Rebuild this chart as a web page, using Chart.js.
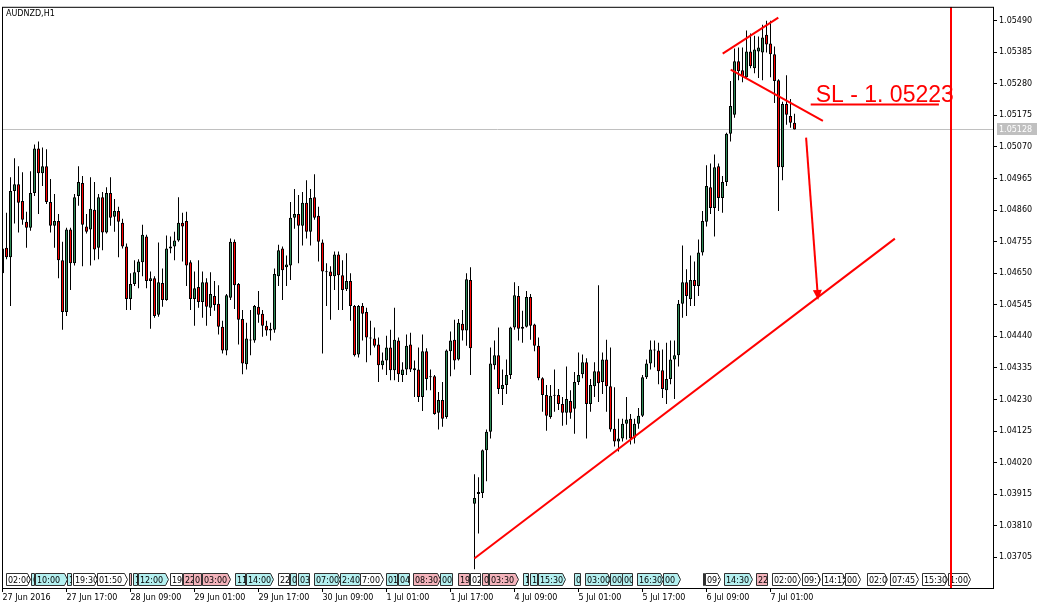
<!DOCTYPE html>
<html>
<head>
<meta charset="utf-8">
<title>AUDNZD,H1</title>
<script src="https://cdn.jsdelivr.net/npm/chart.js@4.4.1/dist/chart.umd.min.js"></script>
<style>
  html, body { margin: 0; padding: 0; background: #fff; }
  #wrap { width: 1047px; height: 609px; }
</style>
</head>
<body>
<div id="wrap"><canvas id="chart" width="1047" height="609"></canvas></div>
<script>
'use strict';

// ---------- data: AUDNZD H1, one entry per hourly bar ----------

const opens = [
  1.04650, 1.04735, 1.04703, 1.04923, 1.04946, 1.04890, 1.04821, 1.04801, 1.04917, 1.05065,
  1.04982, 1.05006, 1.04887, 1.04808, 1.04824, 1.04693, 1.04521, 1.04795, 1.04683, 1.04907,
  1.04950, 1.04805, 1.04795, 1.04861, 1.04735, 1.04903, 1.04785, 1.04917, 1.04838, 1.04857,
  1.04818, 1.04739, 1.04564, 1.04614, 1.04653, 1.04686, 1.04772, 1.04624, 1.04633, 1.04512,
  1.04617, 1.04561, 1.04732, 1.04739, 1.04759, 1.04818, 1.04824, 1.04686, 1.04564, 1.04604,
  1.04554, 1.04620, 1.04535, 1.04574, 1.04548, 1.04472, 1.04393, 1.04568, 1.04755, 1.04614,
  1.04498, 1.04347, 1.04426, 1.04426, 1.04538, 1.04515, 1.04475, 1.04459, 1.04462, 1.04640,
  1.04732, 1.04670, 1.04676, 1.04834, 1.04847, 1.04808, 1.04884, 1.04788, 1.04903, 1.04841,
  1.04752, 1.04656, 1.04656, 1.04640, 1.04712, 1.04643, 1.04597, 1.04624, 1.04541, 1.04380,
  1.04541, 1.04521, 1.04436, 1.04433, 1.04413, 1.04344, 1.04360, 1.04403, 1.04327, 1.04426,
  1.04311, 1.04330, 1.04413, 1.04327, 1.04330, 1.04238, 1.04390, 1.04307, 1.04307, 1.04186,
  1.04228, 1.04172, 1.04390, 1.04429, 1.04363, 1.04482, 1.04459, 1.04627, 1.03883, 1.03916,
  1.03919, 1.04061, 1.04123, 1.04344, 1.04377, 1.04265, 1.04278, 1.04311, 1.04469, 1.04574,
  1.04465, 1.04472, 1.04571, 1.04479, 1.04409, 1.04301, 1.04245, 1.04172, 1.04242, 1.04245,
  1.04215, 1.04186, 1.04225, 1.04199, 1.04288, 1.04314, 1.04354, 1.04215, 1.04274, 1.04324,
  1.04288, 1.04363, 1.04274, 1.04133, 1.04090, 1.04100, 1.04149, 1.04166, 1.04103, 1.04149,
  1.04176, 1.04304, 1.04350, 1.04396, 1.04393, 1.04327, 1.04261, 1.04298, 1.04363, 1.04377,
  1.04548, 1.04620, 1.04564, 1.04627, 1.04607, 1.04719, 1.04821, 1.04936, 1.04867, 1.05006,
  1.04900, 1.04953, 1.05114, 1.05177, 1.05355, 1.05325, 1.05302, 1.05387, 1.05332, 1.05387,
  1.05384, 1.05443, 1.05414, 1.05378, 1.05292, 1.05002, 1.05213, 1.05173, 1.05150
];

const highs = [
  1.04749, 1.04851, 1.04969, 1.05032, 1.05006, 1.04986, 1.04854, 1.04989, 1.05078, 1.05088,
  1.05068, 1.05062, 1.04963, 1.04913, 1.04847, 1.04755, 1.04801, 1.04801, 1.04913, 1.05006,
  1.04973, 1.04847, 1.04969, 1.04953, 1.04913, 1.04920, 1.04936, 1.04969, 1.04897, 1.04871,
  1.04831, 1.04749, 1.04650, 1.04693, 1.04696, 1.04811, 1.04778, 1.04656, 1.04640, 1.04752,
  1.04666, 1.04775, 1.04772, 1.04788, 1.04903, 1.04851, 1.04854, 1.04693, 1.04656, 1.04693,
  1.04656, 1.04633, 1.04653, 1.04624, 1.04610, 1.04492, 1.04581, 1.04765, 1.04762, 1.04617,
  1.04528, 1.04485, 1.04528, 1.04544, 1.04591, 1.04528, 1.04492, 1.04485, 1.04666, 1.04745,
  1.04739, 1.04709, 1.04887, 1.04930, 1.04910, 1.04920, 1.04959, 1.04930, 1.04979, 1.04871,
  1.04762, 1.04683, 1.04673, 1.04722, 1.04722, 1.04693, 1.04716, 1.04650, 1.04544, 1.04544,
  1.04551, 1.04535, 1.04492, 1.04469, 1.04436, 1.04386, 1.04442, 1.04462, 1.04535, 1.04436,
  1.04354, 1.04446, 1.04452, 1.04360, 1.04403, 1.04446, 1.04400, 1.04330, 1.04311, 1.04255,
  1.04288, 1.04396, 1.04456, 1.04495, 1.04498, 1.04528, 1.04650, 1.04670, 1.03981, 1.03971,
  1.04064, 1.04130, 1.04403, 1.04426, 1.04469, 1.04330, 1.04363, 1.04472, 1.04620, 1.04607,
  1.04525, 1.04591, 1.04581, 1.04482, 1.04436, 1.04304, 1.04278, 1.04278, 1.04330, 1.04265,
  1.04238, 1.04340, 1.04261, 1.04321, 1.04386, 1.04380, 1.04367, 1.04298, 1.04354, 1.04610,
  1.04386, 1.04429, 1.04403, 1.04271, 1.04166, 1.04166, 1.04238, 1.04182, 1.04166, 1.04202,
  1.04311, 1.04363, 1.04426, 1.04426, 1.04419, 1.04396, 1.04419, 1.04426, 1.04426, 1.04561,
  1.04742, 1.04663, 1.04709, 1.04689, 1.04762, 1.04857, 1.05009, 1.05015, 1.05045, 1.05015,
  1.04973, 1.05117, 1.05289, 1.05397, 1.05401, 1.05401, 1.05457, 1.05447, 1.05440, 1.05437,
  1.05476, 1.05490, 1.05490, 1.05404, 1.05295, 1.05220, 1.05308, 1.05229, 1.05180
];

const lows = [
  1.04633, 1.04696, 1.04541, 1.04815, 1.04785, 1.04811, 1.04735, 1.04791, 1.04907, 1.04847,
  1.04940, 1.04880, 1.04785, 1.04735, 1.04633, 1.04462, 1.04508, 1.04594, 1.04676, 1.04874,
  1.04673, 1.04782, 1.04676, 1.04693, 1.04696, 1.04726, 1.04782, 1.04808, 1.04788, 1.04703,
  1.04732, 1.04528, 1.04528, 1.04607, 1.04600, 1.04640, 1.04600, 1.04465, 1.04502, 1.04505,
  1.04538, 1.04558, 1.04716, 1.04693, 1.04755, 1.04689, 1.04607, 1.04528, 1.04475, 1.04535,
  1.04502, 1.04475, 1.04508, 1.04525, 1.04446, 1.04383, 1.04377, 1.04561, 1.04531, 1.04413,
  1.04314, 1.04330, 1.04377, 1.04419, 1.04485, 1.04439, 1.04442, 1.04426, 1.04452, 1.04607,
  1.04561, 1.04607, 1.04627, 1.04798, 1.04683, 1.04742, 1.04765, 1.04742, 1.04828, 1.04689,
  1.04383, 1.04541, 1.04495, 1.04594, 1.04528, 1.04528, 1.04591, 1.04492, 1.04373, 1.04370,
  1.04426, 1.04354, 1.04377, 1.04403, 1.04288, 1.04330, 1.04311, 1.04294, 1.04294, 1.04288,
  1.04288, 1.04311, 1.04321, 1.04238, 1.04222, 1.04192, 1.04261, 1.04261, 1.04179, 1.04130,
  1.04139, 1.04166, 1.04307, 1.04330, 1.04360, 1.04426, 1.04409, 1.04311, 1.03665, 1.03784,
  1.03902, 1.03958, 1.04100, 1.04330, 1.04248, 1.04212, 1.04248, 1.04298, 1.04462, 1.04426,
  1.04419, 1.04469, 1.04429, 1.04390, 1.04294, 1.04189, 1.04126, 1.04166, 1.04189, 1.04195,
  1.04143, 1.04146, 1.04166, 1.04116, 1.04278, 1.04301, 1.04100, 1.04189, 1.04238, 1.04222,
  1.04248, 1.04189, 1.04123, 1.04074, 1.04057, 1.04090, 1.04097, 1.04080, 1.04084, 1.04133,
  1.04172, 1.04298, 1.04330, 1.04337, 1.04281, 1.04235, 1.04215, 1.04281, 1.04232, 1.04340,
  1.04502, 1.04508, 1.04541, 1.04541, 1.04574, 1.04709, 1.04805, 1.04847, 1.04772, 1.04857,
  1.04851, 1.04940, 1.05088, 1.05167, 1.05292, 1.05285, 1.05299, 1.05332, 1.05315, 1.05299,
  1.05292, 1.05384, 1.05302, 1.05216, 1.04857, 1.04959, 1.05144, 1.05134, 1.05128
];

const closes = [
  1.04732, 1.04703, 1.04923, 1.04946, 1.04884, 1.04828, 1.04801, 1.04917, 1.05065, 1.04982,
  1.05006, 1.04887, 1.04808, 1.04824, 1.04693, 1.04521, 1.04795, 1.04683, 1.04903, 1.04953,
  1.04811, 1.04788, 1.04864, 1.04729, 1.04903, 1.04785, 1.04917, 1.04834, 1.04857, 1.04821,
  1.04739, 1.04564, 1.04614, 1.04653, 1.04689, 1.04778, 1.04624, 1.04633, 1.04508, 1.04620,
  1.04561, 1.04732, 1.04739, 1.04759, 1.04818, 1.04805, 1.04676, 1.04564, 1.04600, 1.04554,
  1.04620, 1.04538, 1.04581, 1.04544, 1.04472, 1.04393, 1.04577, 1.04755, 1.04610, 1.04495,
  1.04350, 1.04433, 1.04429, 1.04541, 1.04512, 1.04475, 1.04459, 1.04465, 1.04647, 1.04726,
  1.04660, 1.04679, 1.04834, 1.04847, 1.04808, 1.04884, 1.04788, 1.04900, 1.04834, 1.04755,
  1.04656, 1.04653, 1.04640, 1.04712, 1.04643, 1.04594, 1.04624, 1.04541, 1.04377, 1.04541,
  1.04515, 1.04436, 1.04433, 1.04409, 1.04344, 1.04360, 1.04403, 1.04327, 1.04429, 1.04314,
  1.04330, 1.04409, 1.04330, 1.04334, 1.04238, 1.04390, 1.04298, 1.04304, 1.04182, 1.04228,
  1.04166, 1.04393, 1.04426, 1.04360, 1.04485, 1.04459, 1.04630, 1.04400, 1.03902, 1.03922,
  1.04061, 1.04123, 1.04350, 1.04377, 1.04265, 1.04278, 1.04311, 1.04469, 1.04577, 1.04465,
  1.04472, 1.04571, 1.04475, 1.04409, 1.04301, 1.04245, 1.04176, 1.04242, 1.04245, 1.04215,
  1.04186, 1.04232, 1.04186, 1.04288, 1.04311, 1.04354, 1.04215, 1.04278, 1.04324, 1.04284,
  1.04363, 1.04274, 1.04130, 1.04090, 1.04100, 1.04149, 1.04163, 1.04100, 1.04149, 1.04176,
  1.04304, 1.04350, 1.04396, 1.04393, 1.04324, 1.04265, 1.04298, 1.04363, 1.04377, 1.04548,
  1.04620, 1.04574, 1.04627, 1.04607, 1.04719, 1.04824, 1.04940, 1.04867, 1.05002, 1.04900,
  1.04953, 1.05114, 1.05206, 1.05355, 1.05322, 1.05305, 1.05387, 1.05338, 1.05394, 1.05401,
  1.05434, 1.05411, 1.05378, 1.05289, 1.05002, 1.05213, 1.05177, 1.05150, 1.05128
];

const priceTicks = [
  1.05490, 1.05385, 1.05280, 1.05175, 1.05070, 1.04965, 1.04860, 1.04755, 1.04650,
  1.04545, 1.04440, 1.04335, 1.04230, 1.04125, 1.04020, 1.03915, 1.03810, 1.03705
];

// bar index of each time label
const timeTickBars = [0, 16, 32, 48, 64, 80, 96, 112, 128, 144, 160, 176, 192];
const timeTickLabels = [
  '27 Jun 2016', '27 Jun 17:00', '28 Jun 09:00', '29 Jun 01:00', '29 Jun 17:00',
  '30 Jun 09:00', '1 Jul 01:00', '1 Jul 17:00', '4 Jul 09:00', '5 Jul 01:00',
  '5 Jul 17:00', '6 Jul 09:00', '7 Jul 01:00'
];

const symbolTitle = 'AUDNZD,H1';
const bidPrice = 1.05128;

// hand-drawn objects: [bar, price] end points
const supportLine = [[117.95, 1.03701], [223.1, 1.04765]];
const channelTop = [[180.05, 1.05380], [193.95, 1.05500]];
const channelBottom = [[182.05, 1.05327], [205.1, 1.05157]];
const targetArrow = [[200.9, 1.05101], [203.9, 1.04561]];
const slText = 'SL - 1. 05223';
const slAnchor = [203.3, 1.05220];
const slUnderline = [[202.05, 1.05211], [234.1, 1.05211]];
const markerBar = 237.125;

// calendar strip: [start bar, width in bars, text, kind]
const calendarEvents = [
  [0.9, 6.0, '02:00', 'w'], [7.05, 0.9, '0', 'c'], [8.1, 7.9, '10:00', 'c'],
  [16.05, 1.0, '1', 'c'], [17.55, 6.0, '19:30', 'w'], [23.7, 7.35, '01:50', 'w'],
  [31.6, 0.5, '', 'p'], [32.6, 1.0, '1', 'c'], [33.9, 7.5, '12:00', 'c'],
  [41.9, 2.9, '19', 'w'], [45.05, 2.5, '22', 'p'], [47.6, 2.0, '0', 'p'],
  [49.8, 7.1, '03:00', 'p'], [58.1, 2.5, '11', 'c'], [60.8, 6.9, '14:00', 'c'],
  [68.9, 2.75, '22', 'w'], [71.9, 1.5, '0', 'c'], [73.8, 2.9, '03', 'c'],
  [77.9, 6.5, '07:00', 'c'], [84.4, 5.4, '2:40', 'c'], [89.4, 5.75, '7:00', 'w'],
  [95.9, 2.75, '01', 'c'], [98.9, 2.75, '04', 'c'], [102.6, 6.75, '08:30', 'p'],
  [109.4, 2.9, '00', 'c'], [113.9, 2.75, '19', 'p'], [116.9, 2.5, '02', 'w'],
  [119.8, 1.6, '0', 'p'], [121.6, 7.25, '03:30', 'p'], [130.05, 1.3, '1', 'c'],
  [131.9, 1.7, '1', 'c'], [133.9, 6.75, '15:30', 'c'], [142.9, 1.5, '0', 'c'],
  [145.6, 6.25, '03:00', 'c'], [151.9, 2.9, '00', 'c'], [154.8, 2.5, '00', 'c'],
  [158.55, 6.65, '16:30', 'c'], [165.2, 4.2, '00', 'c'], [175.0, 0.4, '', 'c'],
  [175.6, 3.75, '09:', 'w'], [180.4, 6.9, '14:30', 'c'], [188.4, 2.7, '22', 'p'],
  [192.3, 7.1, '02:00', 'w'], [199.8, 4.6, '09:1', 'w'], [204.8, 5.8, '14:15', 'w'],
  [210.6, 3.75, '00', 'w'], [216.1, 4.9, '02:0', 'w'], [221.9, 7.0, '07:45', 'w'],
  [229.8, 6.25, '15:30', 'w'], [236.4, 5.5, '1:00', 'w']
];

// ---------- look ----------

const BULL = '#2e8b57';
const BEAR = '#ff0000';
const RED = '#ff0000';
const AXIS_FONT = { family: 'DejaVu Sans', size: 8 };
const CAL_FILL = { c: '#b4f0f0', p: '#f4b4bc', w: '#ffffff' };

// ---------- drawing helpers ----------

function toPx(chart, pt) {
  return [chart.scales.x.getPixelForValue(pt[0]), chart.scales.y.getPixelForValue(pt[1])];
}

function strokeSegment(ctx, chart, seg) {
  const [x1, y1] = toPx(chart, seg[0]);
  const [x2, y2] = toPx(chart, seg[1]);
  ctx.beginPath();
  ctx.moveTo(x1, y1);
  ctx.lineTo(x2, y2);
  ctx.stroke();
}

function drawArrow(ctx, chart, seg) {
  const [x1, y1] = toPx(chart, seg[0]);
  const [x2, y2] = toPx(chart, seg[1]);
  const len = Math.hypot(x2 - x1, y2 - y1);
  const ux = (x2 - x1) / len, uy = (y2 - y1) / len;
  const head = 10, half = 4.5;
  const bx = x2 - ux * head, by = y2 - uy * head;
  ctx.beginPath();
  ctx.moveTo(x1, y1);
  ctx.lineTo(bx, by);
  ctx.stroke();
  ctx.beginPath();
  ctx.moveTo(x2, y2);
  ctx.lineTo(bx - uy * half, by + ux * half);
  ctx.lineTo(bx + uy * half, by - ux * half);
  ctx.closePath();
  ctx.fill();
}

function drawCalendar(ctx, chart) {
  const xs = chart.scales.x;
  const b = chart.chartArea.bottom - 2.5;
  const t = b - 12;
  ctx.save();
  ctx.font = `${AXIS_FONT.size}px "${AXIS_FONT.family}"`;
  ctx.textBaseline = 'alphabetic';
  for (const [bar, span, text, kind] of calendarEvents) {
    const x0 = Math.round(xs.getPixelForValue(bar)) + 0.5;
    const x1 = Math.round(xs.getPixelForValue(bar + span)) + 0.5;
    ctx.beginPath();
    if (span >= 3.5) {
      ctx.moveTo(x0, t);
      ctx.lineTo(x1 - 3, t);
      ctx.lineTo(x1, (t + b) / 2);
      ctx.lineTo(x1 - 3, b);
      ctx.lineTo(x0, b);
      ctx.closePath();
    } else {
      ctx.rect(x0, t, Math.max(1, x1 - x0), b - t);
    }
    ctx.fillStyle = CAL_FILL[kind];
    ctx.fill();
    ctx.strokeStyle = '#303030';
    ctx.lineWidth = 1;
    ctx.stroke();
    if (text) {
      ctx.save();
      ctx.clip();
      ctx.fillStyle = '#000';
      ctx.fillText(text, x0 + 1.5, b - 2.5);
      ctx.restore();
    }
  }
  ctx.restore();
}

const overlay = {
  id: 'overlay',
  beforeDatasetsDraw(chart) {
    const { ctx, chartArea: a } = chart;
    const py = Math.round(chart.scales.y.getPixelForValue(bidPrice)) + 0.5;
    ctx.save();
    ctx.strokeStyle = '#c0c0c0';
    ctx.lineWidth = 1;
    ctx.beginPath();
    ctx.moveTo(a.left, py);
    ctx.lineTo(a.right, py);
    ctx.stroke();
    ctx.restore();
  },
  afterDatasetsDraw(chart) {
    const { ctx, chartArea: a } = chart;
    ctx.save();
    ctx.beginPath();
    ctx.rect(a.left, a.top, a.right - a.left, a.bottom - a.top);
    ctx.clip();

    drawCalendar(ctx, chart);

    ctx.strokeStyle = RED;
    ctx.fillStyle = RED;
    ctx.lineWidth = 2;
    strokeSegment(ctx, chart, supportLine);
    strokeSegment(ctx, chart, channelTop);
    strokeSegment(ctx, chart, channelBottom);
    drawArrow(ctx, chart, targetArrow);

    const [tx, ty] = toPx(chart, slAnchor);
    ctx.font = '23px "Liberation Sans"';
    ctx.textBaseline = 'alphabetic';
    ctx.fillText(slText, tx, ty);
    strokeSegment(ctx, chart, slUnderline);

    const vx = chart.scales.x.getPixelForValue(markerBar);
    ctx.fillRect(Math.round(vx) - 1, a.top, 2, a.bottom - a.top);
    ctx.restore();
  },
  afterDraw(chart) {
    const { ctx, chartArea: a } = chart;
    ctx.save();
    ctx.strokeStyle = '#000';
    ctx.lineWidth = 1;
    ctx.strokeRect(a.left + 0.5, a.top + 0.5, a.right - a.left, a.bottom - a.top);

    ctx.font = `${AXIS_FONT.size}px "${AXIS_FONT.family}"`;
    ctx.fillStyle = '#000';
    ctx.textBaseline = 'top';
    ctx.fillText(symbolTitle, a.left + 4, a.top + 3);

    const py = Math.round(chart.scales.y.getPixelForValue(bidPrice));
    ctx.fillStyle = '#c0c0c0';
    ctx.fillRect(a.right + 4, py - 6, 40, 12);
    ctx.fillStyle = '#fff';
    ctx.textBaseline = 'middle';
    ctx.fillText(bidPrice.toFixed(5), a.right + 6, py + 0.5);
    ctx.restore();
  }
};

// ---------- chart ----------

const bodyData = opens.map((o, i) => ({ x: i, y: [o, closes[i]] }));
const wickData = opens.map((o, i) => ({ x: i, y: [lows[i], highs[i]] }));
const bodyColors = opens.map((o, i) => (closes[i] >= o ? BULL : BEAR));

new Chart(document.getElementById('chart'), {
  type: 'bar',
  data: {
    datasets: [
      {
        data: bodyData,
        backgroundColor: bodyColors,
        borderColor: '#000',
        borderWidth: 1,
        borderSkipped: false,
        barThickness: 3,
        minBarLength: 1,
        inflateAmount: 0,
        grouped: false,
        order: 0,
      },
      {
        data: wickData,
        backgroundColor: '#000',
        borderWidth: 0,
        barThickness: 1,
        inflateAmount: 0,
        grouped: false,
        order: 1,
      },
    ],
  },
  options: {
    responsive: false,
    animation: false,
    events: [],
    layout: { padding: { left: 2, top: 1, right: 0, bottom: 0 } },
    plugins: { legend: { display: false }, tooltip: { enabled: false } },
    scales: {
      x: {
        type: 'linear',
        offset: false,
        min: -0.125,
        max: 247.625,
        afterBuildTicks: (s) => { s.ticks = timeTickBars.map((v) => ({ value: v })); },
        afterFit: (s) => { s.height = 21; },
        grid: { display: true, offset: false, drawOnChartArea: false, tickLength: 4, color: '#000' },
        border: { display: false },
        ticks: {
          align: 'start',
          autoSkip: false,
          maxRotation: 0,
          padding: 1,
          color: '#000',
          font: AXIS_FONT,
          callback: (v, i) => timeTickLabels[i],
        },
      },
      y: {
        type: 'linear',
        position: 'right',
        min: 1.03603,
        max: 1.05536,
        afterBuildTicks: (s) => { s.ticks = priceTicks.map((v) => ({ value: v })); },
        afterFit: (s) => { s.width = 54; },
        grid: { display: true, drawOnChartArea: false, tickLength: 4, color: '#000' },
        border: { display: false },
        ticks: {
          padding: 2,
          color: '#000',
          font: AXIS_FONT,
          callback: (v) => Number(v).toFixed(5),
        },
      },
    },
  },
  plugins: [overlay],
});
</script>
</body>
</html>
